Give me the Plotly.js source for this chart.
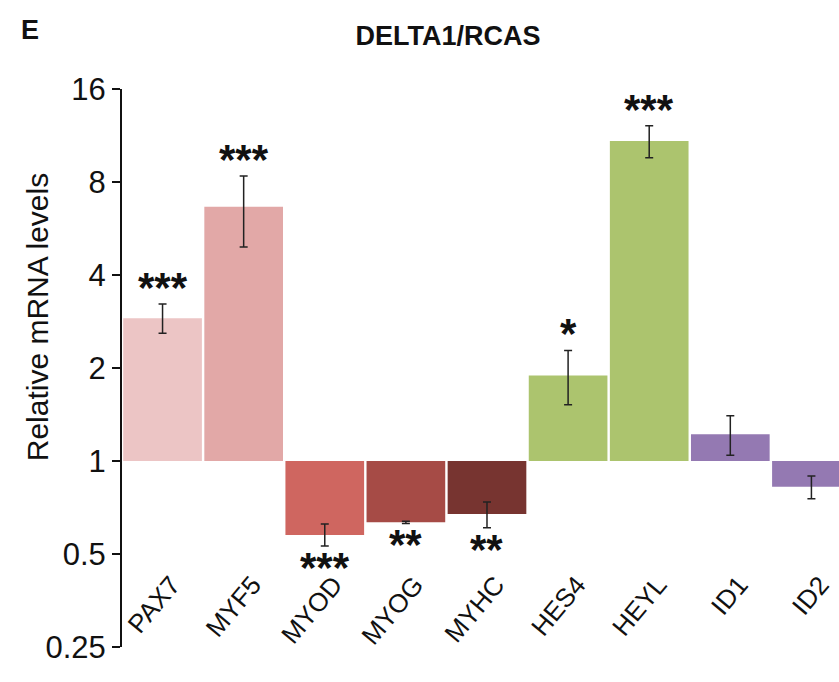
<!DOCTYPE html>
<html>
<head>
<meta charset="utf-8">
<script src="https://cdn.plot.ly/plotly-3.0.1.min.js"></script>
<style>html,body{margin:0;padding:0;background:#fff;}#chart{width:839px;height:682px;}</style>
</head>
<body>
<div id="chart"></div>
<script>
// ---- data ----
const genes    = ['PAX7', 'MYF5', 'MYOD', 'MYOG', 'MYHC', 'HES4', 'HEYL', 'ID1', 'ID2'];
const levels   = [2.90, 6.65, 0.576, 0.633, 0.674, 1.89, 10.86, 1.22, 0.826];
const errHigh  = [3.22, 8.37, 0.625, 0.638, 0.737, 2.28, 12.17, 1.40, 0.894];
const errLow   = [2.59, 4.93, 0.531, 0.628, 0.608, 1.52, 9.59, 1.043, 0.755];
const stars    = ['***', '***', '***', '**', '**', '*', '***', '', ''];
const barColors = ['#ECC5C5', '#E2A8A7', '#CF6660', '#A64B46', '#773430', '#ACC46E', '#ACC46E', '#9479B2', '#9479B2'];
const yTickVals = [0.25, 0.5, 1, 2, 4, 8, 16];
const yTickText = ['0.25', '0.5', '1', '2', '4', '8', '16'];
const baseline = 1;

const FONT = 'Liberation Sans, Arial, sans-serif';

const trace = {
  type: 'bar',
  x: genes,
  base: baseline,
  y: levels.map(v => v - baseline),
  marker: {color: barColors, line: {width: 0}},
  error_y: {
    type: 'data',
    symmetric: false,
    array: errHigh.map((h, i) => h - levels[i]),
    arrayminus: errLow.map((l, i) => levels[i] - l),
    color: '#222',
    thickness: 1.5,
    width: 4
  },
  hoverinfo: 'x+y'
};

const annotations = [];
genes.forEach((g, i) => {
  if (!stars[i]) return;
  const up = levels[i] >= baseline;
  annotations.push({
    x: g, xref: 'x', yref: 'y',
    y: Math.log10(up ? errHigh[i] : errLow[i]),
    text: stars[i], showarrow: false,
    yanchor: up ? 'bottom' : 'top',
    yshift: up ? -9 : 4,
    font: {family: FONT, size: 42, color: '#111', weight: 'bold'}
  });
});
annotations.push({
  xref: 'paper', yref: 'paper', x: -0.1185, y: 0.591,
  xanchor: 'center', yanchor: 'middle',
  text: 'Relative mRNA levels', textangle: -90, showarrow: false,
  font: {family: FONT, size: 30, color: '#111'}
});
annotations.push({
  xref: 'paper', yref: 'paper', x: -0.128, y: 1.105, xanchor: 'center', yanchor: 'middle',
  text: '<b>E</b>', showarrow: false,
  font: {family: FONT, size: 27, color: '#111'}
});

const layout = {
  width: 839, height: 682,
  margin: {l: 122, r: 0, t: 89, b: 35},
  paper_bgcolor: '#fff', plot_bgcolor: '#fff',
  showlegend: false,
  bargap: 0.03,
  title: {
    text: '<b>DELTA1/RCAS</b>',
    x: 0.534, xanchor: 'center', y: 0.948, yanchor: 'middle',
    font: {family: FONT, size: 27, color: '#111'}
  },
  xaxis: {
    type: 'category',
    range: [-0.5, 8.34],
    anchor: 'free', position: 0.15,
    showline: false, ticks: '', showgrid: false, zeroline: false,
    tickangle: -50,
    ticklabelshift: 9,
    tickfont: {family: FONT, size: 26, color: '#111'}
  },
  yaxis: {
    type: 'log',
    range: [Math.log10(0.25), Math.log10(16)],
    tickvals: yTickVals, ticktext: yTickText,
    showline: true, linecolor: '#111', linewidth: 2,
    ticks: 'outside', ticklen: 8, tickwidth: 2, tickcolor: '#111',
    showgrid: false, zeroline: false,
    tickfont: {family: FONT, size: 31, color: '#111'}
  },
  shapes: [{
    type: 'line', xref: 'paper', yref: 'y', x0: 0, x1: 1,
    y0: Math.log10(baseline), y1: Math.log10(baseline),
    line: {color: '#111', width: 2.5}, layer: 'above'
  }],
  annotations: annotations
};

Plotly.newPlot('chart', [trace], layout, {displayModeBar: false, staticPlot: true});
</script>
</body>
</html>
